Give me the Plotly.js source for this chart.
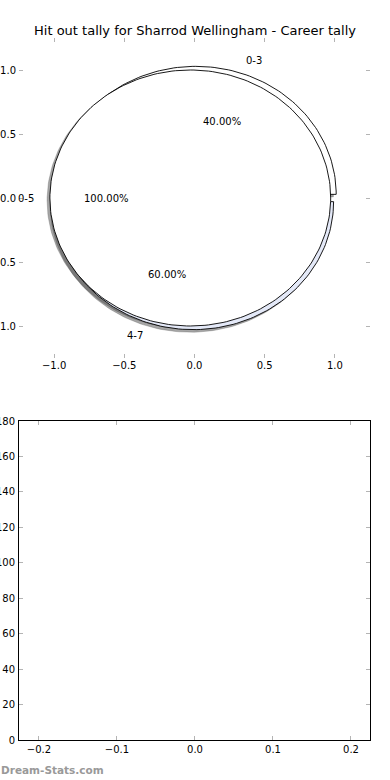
<!DOCTYPE html>
<html>
<head>
<meta charset="utf-8">
<script src="https://cdn.plot.ly/plotly-3.0.1.min.js"></script>
<style>
html,body{margin:0;padding:0;background:#fff;}
#chart{width:390px;height:780px;}
</style>
</head>
<body>
<div id="chart"></div>
<script>
// ---- data ----
const titleText = 'Hit out tally for Sharrod Wellingham - Career tally';
const outerLabels = ['0-3', '4-7'];
const outerValues = [40, 60];
const innerLabels = ['0-5'];
const innerValues = [100];
const pieTicks = [-1.0, -0.5, 0.0, 0.5, 1.0];
const barXTicks = [-0.2, -0.1, 0.0, 0.1, 0.2];
const barYTicks = [0, 20, 40, 60, 80, 100, 120, 140, 160, 180];

// ---- style ----
const outerColors = ['#ffffff', '#e4e9f8'];
const innerColors = ['#ffffff'];
const explode = 0.03;
const radius = 1.0;
const labelDist = 1.1;
const pctDist = 0.6;
const shadowOff = -0.02;
const font = 'DejaVu Sans, sans-serif';

function wedgeGeom(values) {
  const total = values.reduce((a, b) => a + b, 0);
  let start = 0;
  return values.map(v => {
    const frac = v / total;
    const t1 = start * 360, t2 = (start + frac) * 360;
    start += frac;
    const mid = (t1 + t2) / 2 * Math.PI / 180;
    const cx = explode * Math.cos(mid), cy = explode * Math.sin(mid);
    const xs = [], ys = [];
    const full = Math.abs(t2 - t1 - 360) < 1e-9;
    if (!full) { xs.push(cx); ys.push(cy); }
    const n = Math.max(8, Math.ceil((t2 - t1) / 1.5));
    for (let i = 0; i <= n; i++) {
      const a = (t1 + (t2 - t1) * i / n) * Math.PI / 180;
      xs.push(cx + radius * Math.cos(a));
      ys.push(cy + radius * Math.sin(a));
    }
    if (!full) { xs.push(cx); ys.push(cy); }
    return {frac, mid, cx, cy, xs, ys};
  });
}

const outerG = wedgeGeom(outerValues);
const innerG = wedgeGeom(innerValues);

const traces = [];
// shadows first (below all wedges)
[...outerG, ...innerG].forEach(g => {
  traces.push({
    type: 'scatter', mode: 'lines', xaxis: 'x', yaxis: 'y',
    x: g.xs.map(v => v + shadowOff), y: g.ys.map(v => v + shadowOff),
    fill: 'toself', fillcolor: 'rgba(77,77,77,0.5)',
    line: {width: 0.8, color: 'rgba(77,77,77,0.35)'},
    hoverinfo: 'skip', showlegend: false
  });
});
function addWedges(G, colors) {
  G.forEach((g, i) => {
    traces.push({
      type: 'scatter', mode: 'lines', xaxis: 'x', yaxis: 'y',
      x: g.xs, y: g.ys, fill: 'toself', fillcolor: colors[i],
      line: {width: 0.9, color: '#000'},
      hoverinfo: 'skip', showlegend: false
    });
  });
}
addWedges(outerG, outerColors);
addWedges(innerG, innerColors);

// empty bottom axes trace
traces.push({type: 'scatter', mode: 'markers', x: [], y: [], xaxis: 'x2', yaxis: 'y2', showlegend: false});

const annotations = [];
function addLabels(G, labels) {
  G.forEach((g, i) => {
    const lx = g.cx + labelDist * radius * Math.cos(g.mid);
    const ly = g.cy + labelDist * radius * Math.sin(g.mid);
    annotations.push({
      x: lx, y: ly, xref: 'x', yref: 'y', text: labels[i], showarrow: false,
      xanchor: lx < 0 ? 'right' : 'left', yanchor: 'middle',
      font: {family: font, size: 10, color: '#000'}
    });
    const px = g.cx + pctDist * radius * Math.cos(g.mid);
    const py = g.cy + pctDist * radius * Math.sin(g.mid);
    annotations.push({
      x: px, y: py, xref: 'x', yref: 'y', text: (g.frac * 100).toFixed(2) + '%', showarrow: false,
      xanchor: 'center', yanchor: 'middle',
      font: {family: font, size: 10, color: '#000'}
    });
  });
}
addLabels(outerG, outerLabels);
addLabels(innerG, innerLabels);

annotations.push({
  x: 0, y: (780 - 770) / 780, xref: 'paper', yref: 'paper', text: '<b>Dream-Stats.com</b>',
  showarrow: false, xanchor: 'left', yanchor: 'middle', xshift: -1,
  font: {family: font, size: 10.5, color: '#999999'}
});

const tickCommon = {
  ticks: 'inside', ticklen: 4, tickwidth: 1, tickcolor: '#b4b4b4',
  tickfont: {family: font, size: 10, color: '#000'},
  showgrid: false, zeroline: false, fixedrange: true
};

const layout = {
  width: 390, height: 780,
  margin: {l: 0, r: 0, t: 0, b: 0},
  paper_bgcolor: '#fff', plot_bgcolor: 'rgba(0,0,0,0)',
  showlegend: false,
  title: {
    text: titleText, x: 0.5, xanchor: 'center', y: (780 - 30) / 780, yanchor: 'middle',
    font: {family: font, size: 13, color: '#000'}
  },
  xaxis: Object.assign({}, tickCommon, {
    domain: [19 / 390, 370 / 390], anchor: 'y', range: [-1.25, 1.25],
    tickvals: pieTicks, tickformat: '.1f', showline: false, mirror: 'ticks'
  }),
  yaxis: Object.assign({}, tickCommon, {
    domain: [(780 - 358) / 780, (780 - 38) / 780], anchor: 'x', range: [-1.25, 1.25],
    tickvals: pieTicks, tickformat: '.1f', showline: false, mirror: 'ticks', ticklabelstandoff: 2
  }),
  xaxis2: Object.assign({}, tickCommon, {
    domain: [19 / 390, 370 / 390], anchor: 'y2', range: [-0.2256, 0.2244],
    tickvals: barXTicks, tickformat: '.1f', showline: true, linecolor: '#000', linewidth: 1, mirror: 'ticks'
  }),
  yaxis2: Object.assign({}, tickCommon, {
    domain: [(780 - 740) / 780, (780 - 421) / 780], anchor: 'x2', range: [0, 180],
    tickvals: barYTicks, showline: true, linecolor: '#000', linewidth: 1, mirror: 'ticks', ticklabelstandoff: 1
  }),
  annotations: annotations
};

Plotly.newPlot('chart', traces, layout, {displayModeBar: false, staticPlot: true});
</script>
</body>
</html>
